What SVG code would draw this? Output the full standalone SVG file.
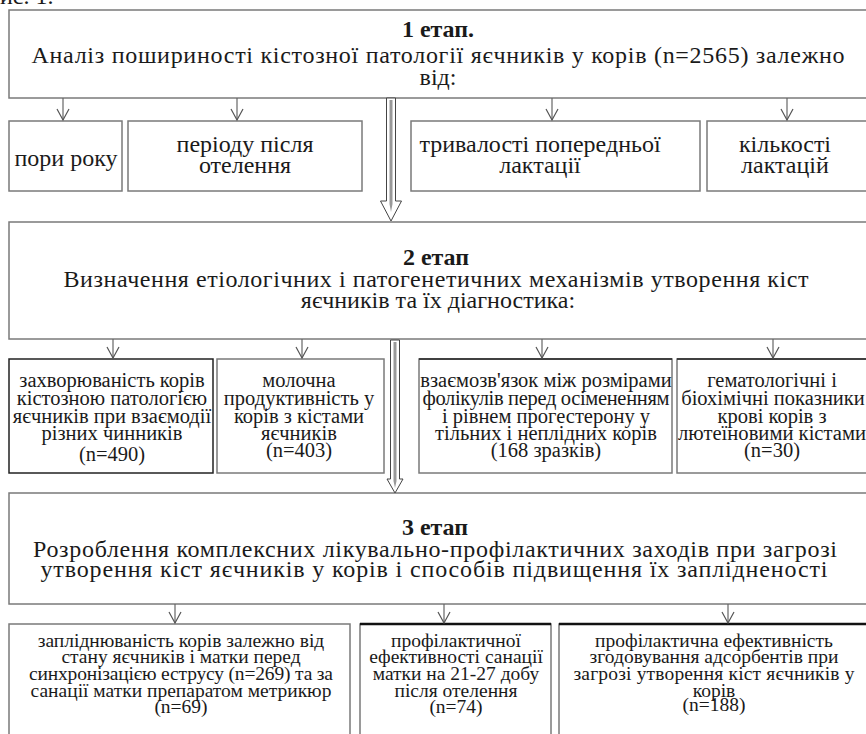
<svg xmlns="http://www.w3.org/2000/svg" width="866" height="734" viewBox="0 0 866 734">
<style>
text{font-family:'Liberation Serif','Times New Roman',serif;fill:#1a1a1a;text-anchor:middle}
.big{font-size:24px}
.b{font-weight:bold}
.m{font-size:20.5px}
.s{font-size:19.5px}
.box{fill:#fff;stroke:#7a7a7a;stroke-width:1.5}
.dk{fill:#fff;stroke:#222;stroke-width:1.5}
.ln{stroke:#666;stroke-width:1.2;fill:none}
.da{fill:#fff;stroke:#444;stroke-width:1}
.di{fill:#999;stroke:none}
</style>
<defs>
<marker id="v" markerUnits="userSpaceOnUse" markerWidth="14" markerHeight="16" viewBox="0 0 14 16" refX="12" refY="7" orient="auto">
<path d="M1,1 L12,7 L1,13" fill="none" stroke="#555" stroke-width="1.2"/>
</marker>
</defs>
<rect width="866" height="734" fill="#fff"/>
<text x="0" y="4" class="big" style="text-anchor:start">ис. 1.</text>

<g id="stage1">
<rect class="box" x="9" y="10" width="870" height="88"/>
<text x="438" y="37" class="big b">1 етап.</text>
<text x="438" y="63" class="big" textLength="813">Аналіз пошириності кістозної патології яєчників у корів (n=2565) залежно</text>
<text x="438" y="85" class="big">від:</text>
</g>
<g id="n_pori">
<rect class="box" x="9" y="121" width="113" height="70"/>
<text x="66" y="166" class="big">пори року</text>
</g>
<g id="n_periodu">
<rect class="box" x="128" y="121" width="234" height="70"/>
<text x="245" y="152" class="big">періоду після</text>
<text x="245" y="173" class="big">отелення</text>
</g>
<g id="n_tryvalosti">
<rect class="box" x="411" y="121" width="289" height="70"/>
<text x="540" y="152" class="big">тривалості попередньої</text>
<text x="540" y="173" class="big">лактації</text>
</g>
<g id="n_kilkosti">
<rect class="box" x="707" y="121" width="170" height="70"/>
<text x="785" y="152" class="big">кількості</text>
<text x="785" y="173" class="big">лактацій</text>
</g>

<g id="stage2">
<rect class="box" x="9" y="222" width="870" height="117"/>
<text x="436" y="265" class="big b">2 етап</text>
<text x="436" y="287" class="big" textLength="745">Визначення етіологічних і патогенетичних механізмів утворення кіст</text>
<text x="438" y="308" class="big">яєчників та їх діагностика:</text>
</g>
<g id="n_zakhv">
<rect class="dk" x="9" y="359" width="204" height="114"/>
<text x="112" y="387" class="m">захворюваність корів</text>
<text x="112" y="405" class="m">кістозною патологією</text>
<text x="112" y="423" class="m">яєчників при взаємодії</text>
<text x="112" y="440" class="m">різних чинників</text>
<text x="112" y="461" class="m">(n=490)</text>
</g>
<g id="n_moloch">
<rect class="box" x="217" y="359" width="167" height="114"/>
<text x="299" y="387" class="m">молочна</text>
<text x="299" y="405" class="m">продуктивність у</text>
<text x="299" y="423" class="m">корів з кістами</text>
<text x="299" y="440" class="m">яєчників</text>
<text x="299" y="457" class="m">(n=403)</text>
</g>
<g id="n_vzaemo">
<rect class="box" x="419" y="359" width="253" height="114"/>
<line x1="419" y1="359" x2="672" y2="359" stroke="#222" stroke-width="1.5"/>
<text x="546" y="387" class="m">взаємозв'язок між розмірами</text>
<text x="546" y="405" class="m" textLength="247">фолікулів перед осімененням</text>
<text x="546" y="423" class="m">і рівнем прогестерону у</text>
<text x="546" y="440" class="m">тільних і неплідних корів</text>
<text x="546" y="457" class="m">(168 зразків)</text>
</g>
<g id="n_gemat">
<rect class="box" x="677" y="359" width="200" height="114"/>
<line x1="677" y1="359" x2="877" y2="359" stroke="#222" stroke-width="1.5"/>
<text x="772" y="387" class="m">гематологічні і</text>
<text x="773" y="405" class="m">біохімічні показники</text>
<text x="772" y="423" class="m">крові корів з</text>
<text x="772" y="440" class="m" textLength="188" lengthAdjust="spacingAndGlyphs">лютеїновими кістами</text>
<text x="772" y="457" class="m">(n=30)</text>
</g>

<g id="stage3">
<rect class="box" x="9" y="493" width="870" height="111"/>
<text x="435" y="535" class="big b">3 етап</text>
<text x="435" y="557" class="big" textLength="804">Розроблення комплексних лікувально-профілактичних заходів при загрозі</text>
<text x="434" y="577" class="big" textLength="787">утворення кіст яєчників у корів і способів підвищення їх заплідненості</text>
</g>
<g id="n_zapl">
<rect class="box" x="9" y="624" width="341" height="130"/>
<text x="181" y="647" class="s">запліднюваність корів залежно від</text>
<text x="181" y="663" class="s">стану яєчників і матки перед</text>
<text x="181" y="680" class="s" textLength="304">синхронізацією еструсу (n=269) та за</text>
<text x="181" y="697" class="s">санації матки препаратом метрикюр</text>
<text x="181" y="713" class="s">(n=69)</text>
</g>
<g id="n_profil">
<rect class="box" x="360" y="624" width="191" height="130"/>
<line x1="360" y1="624" x2="551" y2="624" stroke="#111" stroke-width="2.5"/>
<text x="456" y="647" class="s">профілактичної</text>
<text x="456" y="663" class="s">ефективності санації</text>
<text x="456" y="680" class="s">матки на 21-27 добу</text>
<text x="456" y="697" class="s">після отелення</text>
<text x="456" y="713" class="s">(n=74)</text>
</g>
<g id="n_adsorb">
<rect class="box" x="559" y="624" width="318" height="130"/>
<line x1="559" y1="624" x2="877" y2="624" stroke="#111" stroke-width="2.5"/>
<text x="714" y="647" class="s">профілактична ефективність</text>
<text x="714" y="663" class="s">згодовування адсорбентів при</text>
<text x="714" y="680" class="s" textLength="281">загрозі утворення кіст яєчників у</text>
<text x="714" y="697" class="s">корів</text>
<text x="714" y="711" class="s">(n=188)</text>
</g>

<g id="connectors">
<line class="ln" x1="63" y1="98" x2="63" y2="120" marker-end="url(#v)"/>
<line class="ln" x1="237" y1="98" x2="237" y2="120" marker-end="url(#v)"/>
<line class="ln" x1="552" y1="98" x2="552" y2="120" marker-end="url(#v)"/>
<line class="ln" x1="787" y1="98" x2="787" y2="120" marker-end="url(#v)"/>
<line class="ln" x1="113" y1="339" x2="113" y2="358" marker-end="url(#v)"/>
<line class="ln" x1="302" y1="339" x2="302" y2="358" marker-end="url(#v)"/>
<line class="ln" x1="542" y1="339" x2="542" y2="358" marker-end="url(#v)"/>
<line class="ln" x1="773" y1="339" x2="773" y2="358" marker-end="url(#v)"/>
<line class="ln" x1="175" y1="604" x2="175" y2="623" marker-end="url(#v)"/>
<line class="ln" x1="444" y1="604" x2="444" y2="623" marker-end="url(#v)"/>
<line class="ln" x1="728" y1="604" x2="728" y2="623" marker-end="url(#v)"/>
<polygon class="da" points="386.5,98 395.5,98 395.5,201 401.5,201 391,221 380.5,201 386.5,201"/>
<polygon class="di" points="389.5,100 392.5,100 392.5,204 391,212 389.5,204"/>
<polygon class="da" points="390.5,340 399.5,340 399.5,479 403,479 395,493 387,479 390.5,479"/>
<polygon class="di" points="393.5,342 396.5,342 396.5,481 395,488 393.5,481"/>
</g>
</svg>
